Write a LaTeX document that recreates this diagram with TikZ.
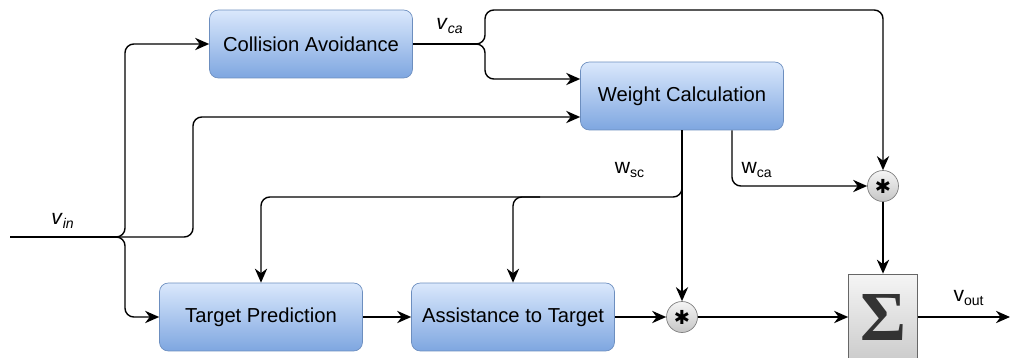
\documentclass[tikz,border=0pt]{standalone}
\usepackage{fontspec}
\setmainfont{Liberation Sans}
\newfontfamily\symfont{DejaVu Sans}
\newfontfamily\sigmafont{Liberation Serif}
\usetikzlibrary{arrows.meta}
\definecolor{boxtop}{HTML}{DAE8FC}
\definecolor{boxbot}{HTML}{7EA6E0}
\definecolor{boxline}{HTML}{6C8EBF}
\tikzset{%
  block/.style  = {rectangle, rounded corners=5pt, draw=boxline,%
                   top color=boxtop, bottom color=boxbot,%
                   minimum width=4.06cm, minimum height=1.36cm,%
                   font=\fontsize{11.5}{13}\selectfont},%
  mult/.style   = {circle, draw=gray, top color=gray!8, bottom color=gray!45,%
                   minimum size=0.62cm, inner sep=0pt,%
                   font=\symfont\fontsize{11}{11}\selectfont},%
  sumbox/.style = {rectangle, draw=gray!80!black, top color=gray!8,%
                   bottom color=gray!40, minimum width=1.38cm,%
                   minimum height=1.72cm, inner sep=0pt,%
                   font=\sigmafont\bfseries\fontsize{40}{40}\selectfont},%
  lbl/.style    = {font=\fontsize{12}{14}\selectfont, inner sep=1pt},%
  wire/.style   = {line width=0.8pt, rounded corners=5pt},%
  sig/.style    = {wire, -{Stealth[length=8pt,width=7pt]}}%
}

\begin{document}
\begin{tikzpicture}[x=0.02cm, y=-0.02cm]
	\useasboundingbox (0,0) rectangle (1010,358);
	% blocks
	\node[block] (ca) at (311,44)  {Collision Avoidance};
	\node[block] (wc) at (682,96)  {Weight Calculation};
	\node[block] (tp) at (261,317) {Target Prediction};
	\node[block] (at) at (513,317) {Assistance to Target};
	\node[mult]  (mt) at (883,186) {✱};
	\node[mult]  (mb) at (682,317) {✱};
	\node[sumbox] (sum) at (883,317) {\textcolor{black!80}{Σ}};
	% end points and junctions
	\coordinate (in)  at (10,237);
	\coordinate (jin) at (118,237);
	\coordinate (jca) at (478,44);
	\coordinate (jsc) at (540,197);
	\coordinate (out) at (1010,317);
	% labels
	\node[lbl] (vin)  at (63,221)  {\textit{v}\textsubscript{\textit{in}}};
	\node[lbl] (vca)  at (450,26)  {\textit{v}\textsubscript{\textit{ca}}};
	\node[lbl] (wsc)  at (630,170) {w\textsubscript{sc}};
	\node[lbl] (wca)  at (757,170) {w\textsubscript{ca}};
	\node[lbl] (vout) at (969,298) {v\textsubscript{out}};
	% input
	\draw[wire] (in) -- (jin);
	\draw[sig] (jin) -- ++(7,0) |- (ca.west);
	\draw[sig] (jin) -- ++(75,0) |- ([yshift=-0.42cm]wc.west);
	\draw[sig] (jin) -- ++(7,0) |- (tp.west);
	% collision avoidance output
	\draw[wire] (ca.east) -- (jca);
	\draw[sig] (jca) -- ++(7,0) |- (0,10 -| mt.north) -- (mt.north);
	\draw[sig] (jca) -- ++(7,0) |- ([yshift=0.34cm]wc.west);
	% weights
	\draw[sig] (wc.south) -- (mb.north);
	\draw[sig] (wc.south) |- (jsc) -| (tp.north);
	\draw[sig] (jsc) -| (at.north);
	\draw[sig] ([xshift=1cm]wc.south) |- (mt.west);
	% lower chain
	\draw[sig] (tp.east) -- (at.west);
	\draw[sig] (at.east) -- (mb.west);
	\draw[sig] (mb.east) -- (sum.west);
	\draw[sig] (mt.south) -- (sum.north);
	\draw[sig] (sum.east) -- (out);
\end{tikzpicture}
\end{document}
